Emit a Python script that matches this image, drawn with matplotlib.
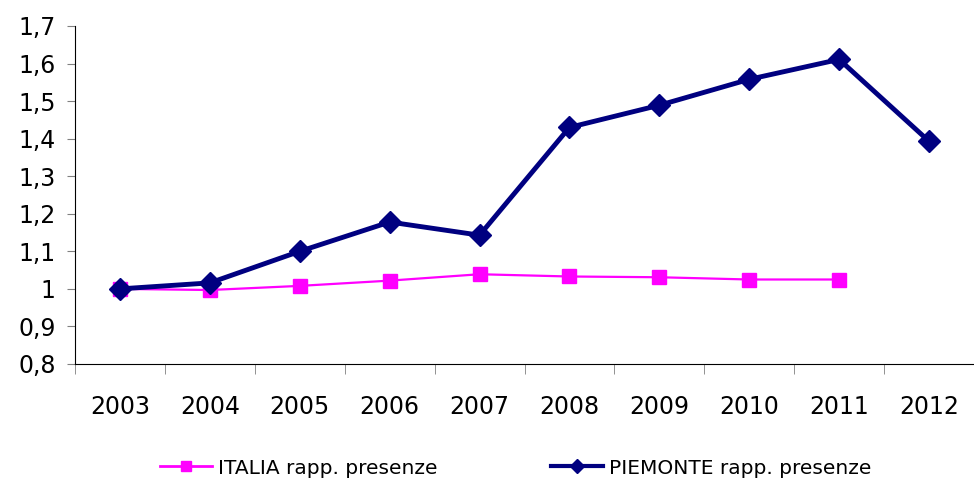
import numpy as np
import matplotlib.pyplot as plt
from matplotlib.lines import Line2D
from matplotlib.ticker import FuncFormatter, MultipleLocator

# dati
anni = ['2003', '2004', '2005', '2006', '2007', '2008', '2009', '2010', '2011', '2012']
italia = [1.0, 0.997, 1.008, 1.022, 1.039, 1.033, 1.031, 1.025, 1.025]
piemonte = [1.0, 1.016, 1.10, 1.178, 1.143, 1.43, 1.489, 1.558, 1.611, 1.393]

plt.rcParams['font.family'] = 'DejaVu Sans'

fig = plt.figure(figsize=(9.74, 4.82), dpi=100)
ax = fig.add_axes([75 / 974, 118 / 482, 899 / 974, 338 / 482])

x = np.arange(len(anni))
ax.plot(x[:len(italia)], italia, color='#FF00FF', lw=1.6, marker='s', ms=10)
ax.plot(x, piemonte, color='#000080', lw=3.5, marker='D', ms=11)

ax.set_ylim(0.8, 1.7)
ax.set_xlim(-0.5, -0.5 + 899 / 91)
ax.yaxis.set_major_locator(MultipleLocator(0.1))
ax.yaxis.set_major_formatter(FuncFormatter(lambda v, p: ('%g' % round(v, 1)).replace('.', ',')))
ax.tick_params(axis='y', labelsize=17, length=6, color='#808080', pad=8)

ax.set_xticks(x)
ax.set_xticklabels(anni)
ax.set_xticks(np.arange(-0.5, len(anni), 1), minor=True)
ax.tick_params(axis='x', which='major', length=0, labelsize=17, pad=22)
ax.tick_params(axis='x', which='minor', length=7, color='#808080')

for s in ['top', 'right']:
    ax.spines[s].set_visible(False)

# legenda con marcatori più piccoli
h_it = Line2D([], [], color='#FF00FF', lw=2, marker='s', ms=7)
h_pi = Line2D([], [], color='#000080', lw=3, marker='D', ms=7)
fig.legend([h_it, h_pi], ['ITALIA rapp. presenze', 'PIEMONTE rapp. presenze'],
           loc='center left', bbox_to_anchor=(160 / 974, 14 / 482), ncol=2,
           frameon=False, fontsize=14.5, handlelength=2.6, handletextpad=0.3,
           columnspacing=5.6, borderpad=0, borderaxespad=0)

fig.savefig('out.png', dpi=100)
